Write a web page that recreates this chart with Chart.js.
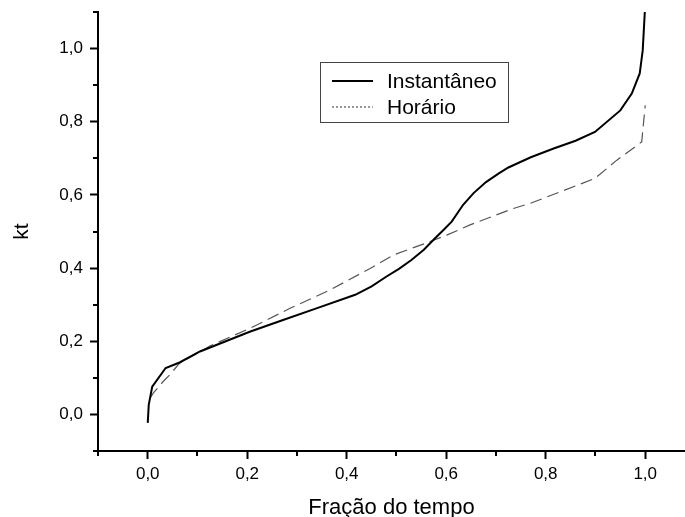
<!DOCTYPE html>
<html>
<head>
<meta charset="utf-8">
<script src="https://cdn.jsdelivr.net/npm/chart.js@4/dist/chart.umd.min.js"></script>
<style>
  body { margin: 0; background: #fff; }
  #wrap { width: 685px; height: 517px; }
</style>
</head>
<body>
<div id="wrap"><canvas id="myChart" width="685" height="517"></canvas></div>
<script>
const FONT = "'Liberation Sans', Arial, sans-serif"

// curves
const INST_X = [0, 0.002, 0.009, 0.036, 0.064, 0.105, 0.205, 0.272, 0.339, 0.417, 0.45, 0.48, 0.505, 0.53, 0.555, 0.577, 0.595, 0.611, 0.634, 0.655, 0.68, 0.705, 0.725, 0.77, 0.816, 0.86, 0.899, 0.95, 0.973, 0.989, 0.995, 1.0]
const INST_Y = [-0.023, 0.026, 0.076, 0.127, 0.142, 0.172, 0.226, 0.258, 0.29, 0.327, 0.35, 0.377, 0.398, 0.422, 0.45, 0.481, 0.505, 0.527, 0.573, 0.605, 0.635, 0.658, 0.675, 0.703, 0.727, 0.748, 0.772, 0.831, 0.877, 0.932, 0.995, 1.12]
const HOR_X = [0.005, 0.011, 0.031, 0.044, 0.064, 0.125, 0.205, 0.286, 0.366, 0.447, 0.494, 0.561, 0.601, 0.648, 0.735, 0.769, 0.899, 0.943, 0.993, 1.0]
const HOR_Y = [0.045, 0.058, 0.09, 0.108, 0.14, 0.187, 0.235, 0.29, 0.34, 0.399, 0.436, 0.469, 0.49, 0.518, 0.563, 0.577, 0.645, 0.695, 0.745, 0.845]

const X_TICKS = [0, 0.2, 0.4, 0.6, 0.8, 1.0]
const Y_TICKS = [0, 0.2, 0.4, 0.6, 0.8, 1.0]
const X_MINOR = [-0.1, 0.1, 0.3, 0.5, 0.7, 0.9]
const Y_MINOR = [-0.1, 0.1, 0.3, 0.5, 0.7, 0.9, 1.1]

const SERIES = [
  { label: "Instantâneo", xs: INST_X, ys: INST_Y, color: "#000", width: 2, dash: [], legendDash: [] },
  { label: "Horário", xs: HOR_X, ys: HOR_Y, color: "#555", width: 1.2, dash: [12, 6], legendDash: [2, 2] },
]

function fmt(v) {
  return v.toFixed(1).replace(".", ",")
}

// short ticks between the labelled ones
const minorTicksPlugin = {
  id: "minorTicks",
  afterDraw(chart) {
    const ctx = chart.ctx
    const xs = chart.scales.x
    const ys = chart.scales.y
    const area = chart.chartArea
    ctx.save()
    ctx.strokeStyle = "#000"
    ctx.lineWidth = 2
    ctx.beginPath()
    X_MINOR.forEach((v) => {
      const px = Math.round(xs.getPixelForValue(v))
      ctx.moveTo(px, area.bottom)
      ctx.lineTo(px, area.bottom + 5)
    })
    Y_MINOR.forEach((v) => {
      const py = Math.round(ys.getPixelForValue(v))
      ctx.moveTo(area.left, py)
      ctx.lineTo(area.left - 5, py)
    })
    ctx.stroke()
    ctx.restore()
  },
}

// boxed legend inside the plot
const boxLegendPlugin = {
  id: "boxLegend",
  afterDraw(chart) {
    const ctx = chart.ctx
    const x0 = 320.5, y0 = 62.5, w = 188, h = 60
    ctx.save()
    ctx.fillStyle = "#fff"
    ctx.fillRect(x0, y0, w, h)
    ctx.strokeStyle = "#444"
    ctx.lineWidth = 1
    ctx.strokeRect(x0, y0, w, h)
    ctx.font = "21px " + FONT
    ctx.textBaseline = "alphabetic"
    SERIES.forEach((s, i) => {
      const ly = 81 + i * 26
      ctx.beginPath()
      ctx.strokeStyle = s.color
      ctx.lineWidth = s.width
      ctx.setLineDash(s.legendDash)
      ctx.moveTo(332, ly)
      ctx.lineTo(373, ly)
      ctx.stroke()
      ctx.setLineDash([])
      ctx.fillStyle = "#000"
      ctx.fillText(s.label, 387, 88 + i * 26)
    })
    ctx.restore()
  },
}

const ctx = document.getElementById("myChart").getContext("2d")
const config = {
  type: "scatter",
  data: {
    datasets: SERIES.map((s) => ({
      label: s.label,
      data: s.xs.map((x, i) => ({ x: x, y: s.ys[i] })),
      showLine: true,
      borderColor: s.color,
      borderWidth: s.width,
      borderDash: s.dash,
      pointRadius: 0,
      tension: 0,
      fill: false,
    })),
  },
  options: {
    responsive: false,
    animation: false,
    devicePixelRatio: 1,
    layout: { padding: { top: 12, right: 0, left: 0, bottom: 0 } },
    plugins: {
      legend: { display: false },
      tooltip: { enabled: false },
    },
    scales: {
      x: {
        type: "linear",
        min: -0.1,
        max: 1.08,
        afterBuildTicks: (scale) => {
          scale.ticks = X_TICKS.map((v) => ({ value: v }))
        },
        afterFit: (scale) => {
          scale.height = 66
          scale.paddingLeft = 0
          scale.paddingRight = 0
        },
        grid: { drawOnChartArea: false, tickLength: 8, tickWidth: 2, tickColor: "#000" },
        border: { display: true, color: "#000", width: 2 },
        ticks: {
          padding: 5,
          color: "#000",
          font: { family: FONT, size: 17 },
          maxRotation: 0,
          callback: (v) => fmt(v),
        },
        title: {
          display: true,
          text: "Fração do tempo",
          color: "#000",
          font: { family: FONT, size: 22, lineHeight: 0.8 },
          padding: { top: 0, bottom: 0 },
        },
      },
      y: {
        type: "linear",
        min: -0.1,
        max: 1.1,
        afterBuildTicks: (scale) => {
          scale.ticks = Y_TICKS.map((v) => ({ value: v }))
        },
        afterFit: (scale) => {
          scale.width = 98
          scale.paddingTop = 0
          scale.paddingBottom = 0
        },
        grid: { drawOnChartArea: false, tickLength: 8, tickWidth: 2, tickColor: "#000" },
        border: { display: true, color: "#000", width: 2 },
        ticks: {
          padding: 7,
          color: "#000",
          font: { family: FONT, size: 17 },
          callback: (v) => fmt(v),
        },
        title: {
          display: true,
          text: "kt",
          color: "#000",
          font: { family: FONT, size: 21 },
          padding: { top: 10, bottom: 0 },
        },
      },
    },
  },
  plugins: [minorTicksPlugin, boxLegendPlugin],
}
var myChart = new Chart(ctx, config)
</script>
</body>
</html>
